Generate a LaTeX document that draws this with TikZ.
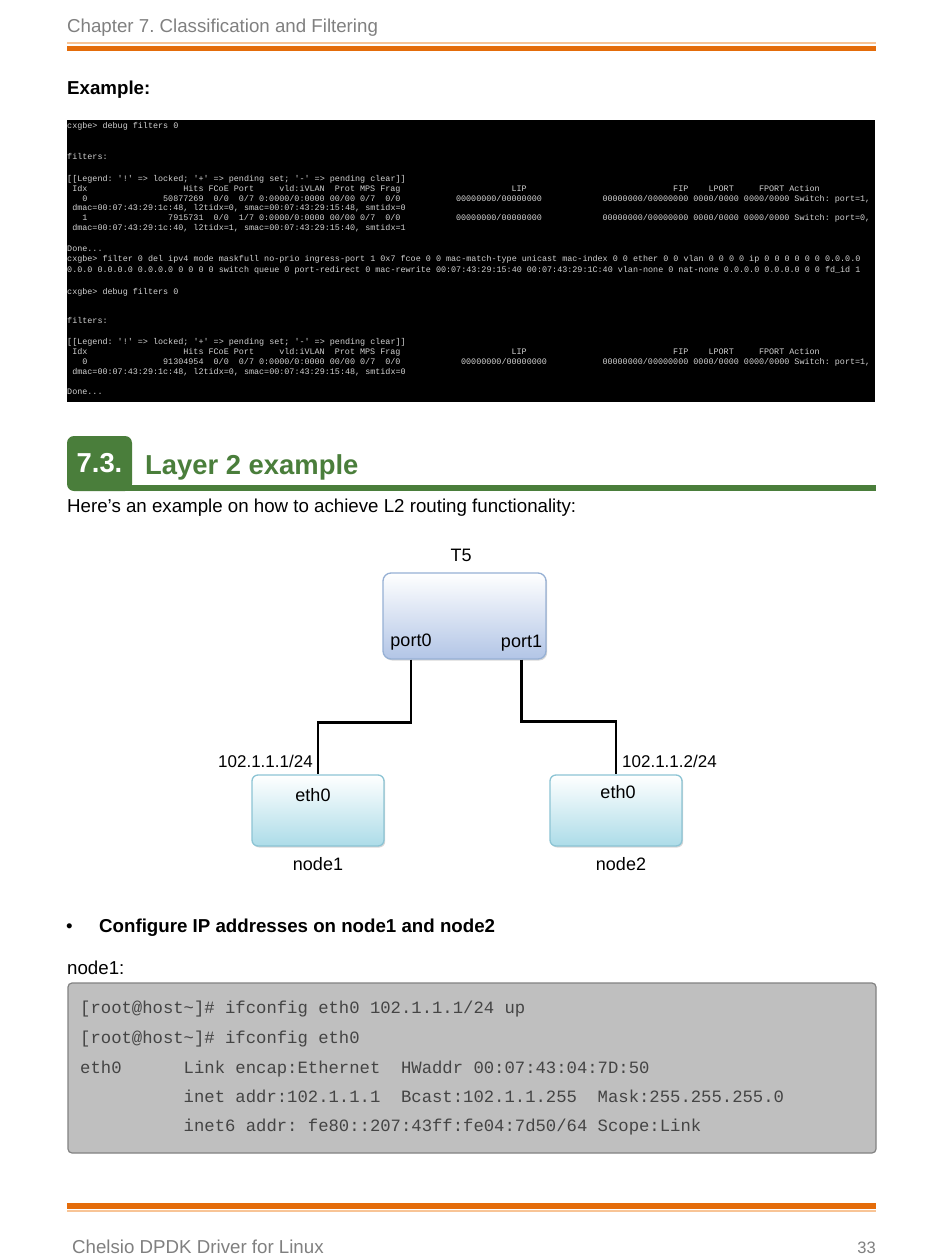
\documentclass[tikz,border=0pt]{standalone}
\usepackage{fontspec}
\setmainfont{Liberation Sans}
\newfontfamily\monof{Liberation Mono}
\usetikzlibrary{shadows}
\definecolor{orgdark}{RGB}{228,108,10}
\definecolor{orglight}{RGB}{248,196,150}
\definecolor{secgreen}{RGB}{74,126,59}
\definecolor{hdrgray}{RGB}{128,128,128}
\definecolor{termtext}{RGB}{210,210,210}
\definecolor{tfill}{RGB}{178,197,230}
\definecolor{tborder}{RGB}{150,176,212}
\definecolor{nfill}{RGB}{172,220,232}
\definecolor{nborder}{RGB}{140,196,212}
\definecolor{codefill}{RGB}{191,191,191}
\definecolor{codeborder}{RGB}{130,130,130}
\definecolor{codetext}{RGB}{68,68,68}
\newcount\tkn
\newcommand\tk[3]{\global\advance\tkn by 1\relax\node[termtxt] (tk\the\tkn) at ({67+#1*5.05},#2) {#3};}
\newcommand\ck[3]{\global\advance\tkn by 1\relax\node[codetxt] (ck\the\tkn) at ({80+#1*10.35},#2) {#3};}
\newcommand\tq{\textquotesingle}
\tikzset{
  body/.style={font=\fontsize{18.7}{22}\selectfont\frenchspacing, inner sep=0pt, anchor=base west},
  bodybf/.style={body, font=\fontsize{18.7}{22}\selectfont\bfseries\frenchspacing},
  termtxt/.style={font=\monof\fontsize{8.42}{10}\selectfont\frenchspacing, text=termtext, inner sep=0pt, anchor=base west},
  codetxt/.style={font=\monof\fontsize{17.25}{20}\selectfont\frenchspacing, text=codetext, inner sep=0pt, anchor=base west},
  diag/.style={font=\fontsize{18}{21}\selectfont, inner sep=0pt, anchor=base},
  ipl/.style={font=\fontsize{17}{20}\selectfont, inner sep=0pt, anchor=base west},
  tbox/.style={draw=tborder, line width=1.3pt, rounded corners=8pt, top color=white, bottom color=tfill,
    minimum width=163pt, minimum height=86pt, inner sep=0pt,
    drop shadow={shadow xshift=1.2pt, shadow yshift=-1.5pt, opacity=0.3}},
  nbox/.style={draw=nborder, line width=1.3pt, rounded corners=6pt, top color=white, bottom color=nfill,
    minimum width=132pt, minimum height=71pt, inner sep=0pt,
    drop shadow={shadow xshift=1.2pt, shadow yshift=-1.5pt, opacity=0.3}},
  link/.style={line width=2.6pt, black},
  codebox/.style={fill=codefill, draw=codeborder, line width=1.2pt, rounded corners=4pt},
  secfont/.style={font=\fontsize{27.4}{32}\selectfont\bfseries\frenchspacing}
}
\begin{document}
\begin{tikzpicture}[x=1pt,y=-1pt]
\useasboundingbox (0,0) rectangle (950,1260);
\fill[white] (0,0) rectangle (950,1260);
% header
\node[body, text=hdrgray] (hdr) at (67,33) {Chapter 7. Classification and Filtering};
\fill[orglight] (67,42.5) rectangle (876,44.2);
\fill[orgdark] (67,46.5) rectangle (876,51.5);
\node[bodybf] (ex) at (67,95) {Example:};
% terminal
\fill[black] (67,120) rectangle (875,402);
\begin{scope}
\clip (67,120) rectangle (875,402);
\tk{0}{129}{cxgbe> debug filters 0}
\tk{0}{159.5}{filters:}
\tk{0}{181.5}{[[Legend: \tq!\tq{} => locked; \tq+\tq{} => pending set; \tq-\tq{} => pending clear]]}
\tk{1}{191.5}{Idx}\tk{23}{191.5}{Hits FCoE Port}\tk{42}{191.5}{vld:iVLAN}\tk{53}{191.5}{Prot MPS Frag}
\tk{88}{191.5}{LIP}\tk{120}{191.5}{FIP}\tk{127}{191.5}{LPORT}\tk{137}{191.5}{FPORT Action}
\tk{3}{201.5}{0}\tk{19}{201.5}{50877269}\tk{29}{201.5}{0/0}\tk{34}{201.5}{0/7 0:0000/0:0000 00/00 0/7}\tk{63}{201.5}{0/0}
\tk{77}{201.5}{00000000/00000000}\tk{106}{201.5}{00000000/00000000 0000/0000 0000/0000 Switch: port=1,}
\tk{1}{211}{dmac=00:07:43:29:1c:48, l2tidx=0, smac=00:07:43:29:15:48, smtidx=0}
\tk{3}{220.5}{1}\tk{20}{220.5}{7915731}\tk{29}{220.5}{0/0}\tk{34}{220.5}{1/7 0:0000/0:0000 00/00 0/7}\tk{63}{220.5}{0/0}
\tk{77}{220.5}{00000000/00000000}\tk{106}{220.5}{00000000/00000000 0000/0000 0000/0000 Switch: port=0,}
\tk{1}{230.5}{dmac=00:07:43:29:1c:40, l2tidx=1, smac=00:07:43:29:15:40, smtidx=1}
\tk{0}{251.5}{Done...}
\tk{0}{261.5}{cxgbe> filter 0 del ipv4 mode maskfull no-prio ingress-port 1 0x7 fcoe 0 0 mac-match-type unicast mac-index 0 0 ether 0 0 vlan 0 0 0 0 ip 0 0 0 0 0 0 0.0.0.0}
\tk{0}{272.5}{0.0.0 0.0.0.0 0.0.0.0 0 0 0 0 switch queue 0 port-redirect 0 mac-rewrite 00:07:43:29:15:40 00:07:43:29:1C:40 vlan-none 0 nat-none 0.0.0.0 0.0.0.0 0 0 fd\_id 1}
\tk{0}{294.5}{cxgbe> debug filters 0}
\tk{0}{323.5}{filters:}
\tk{0}{344.5}{[[Legend: \tq!\tq{} => locked; \tq+\tq{} => pending set; \tq-\tq{} => pending clear]]}
\tk{1}{354.5}{Idx}\tk{23}{354.5}{Hits FCoE Port}\tk{42}{354.5}{vld:iVLAN}\tk{53}{354.5}{Prot MPS Frag}
\tk{88}{354.5}{LIP}\tk{120}{354.5}{FIP}\tk{127}{354.5}{LPORT}\tk{137}{354.5}{FPORT Action}
\tk{3}{364.5}{0}\tk{19}{364.5}{91304954}\tk{29}{364.5}{0/0}\tk{34}{364.5}{0/7 0:0000/0:0000 00/00 0/7}\tk{63}{364.5}{0/0}
\tk{78}{364.5}{00000000/00000000}\tk{106}{364.5}{00000000/00000000 0000/0000 0000/0000 Switch: port=1,}
\tk{1}{374.5}{dmac=00:07:43:29:1c:48, l2tidx=0, smac=00:07:43:29:15:48, smtidx=0}
\tk{0}{394.5}{Done...}
\end{scope}
% section heading
\node[fill=secgreen, rounded corners=7pt, minimum width=65pt, minimum height=55pt, inner sep=0pt, text=white, secfont] (secnum) at (99.5,463.5) {7.3.};
\fill[secgreen] (120,485) rectangle (876,491);
\node[body, text=secgreen, secfont] (sectitle) at (145,474) {Layer 2 example};
\node[body] (intro) at (67,512) {Here’s an example on how to achieve L2 routing functionality:};
% diagram
\node[diag] (t5lbl) at (461,561) {T5};
\node[tbox] (T5) at (464.5,616) {};
\node[diag] (port0) at (411,646) {port0};
\node[diag] (port1) at (521.5,647) {port1};
\node[nbox] (n1) at (318,810.5) {};
\node[nbox] (n2) at (616,810.5) {};
\node[diag] (eth1) at (313,801) {eth0};
\node[diag] (eth2) at (618,798) {eth0};
\node[diag] (n1lbl) at (318,870) {node1};
\node[diag] (n2lbl) at (621,870) {node2};
\node[ipl] (ip1) at (218,767) {102.1.1.1/24};
\node[ipl] (ip2) at (622,767) {102.1.1.2/24};
\draw[link] (port0 |- T5.south) -- ++(0,63) -| (n1.north);
\draw[link] (port1 |- T5.south) -- ++(0,62) -| (n2.north);
% bullet and code
\node[body] (bul) at (66,932) {•};
\node[bodybf] (cfg) at (99,932) {Configure IP addresses on node1 and node2};
\node[body] (n1c) at (67,974) {node1:};
\draw[codebox] (68,983) rectangle (876,1153);
\ck{0}{1013}{[root@host\textasciitilde]\# ifconfig eth0 102.1.1.1/24 up}
\ck{0}{1043}{[root@host\textasciitilde]\# ifconfig eth0}
\ck{0}{1073}{eth0}\ck{10}{1073}{Link encap:Ethernet}\ck{31}{1073}{HWaddr 00:07:43:04:7D:50}
\ck{10}{1102}{inet addr:102.1.1.1}\ck{31}{1102}{Bcast:102.1.1.255}\ck{50}{1102}{Mask:255.255.255.0}
\ck{10}{1131}{inet6 addr: fe80::207:43ff:fe04:7d50/64 Scope:Link}
% footer
\fill[orgdark] (67,1203) rectangle (876,1208.5);
\fill[orglight] (67,1210.2) rectangle (876,1212);
\node[body, text=hdrgray] (ftr) at (72,1253) {Chelsio DPDK Driver for Linux};
\node[body, text=hdrgray, anchor=base east, font=\fontsize{16.5}{20}\selectfont] (pg) at (876,1253) {33};
\end{tikzpicture}
\end{document}
